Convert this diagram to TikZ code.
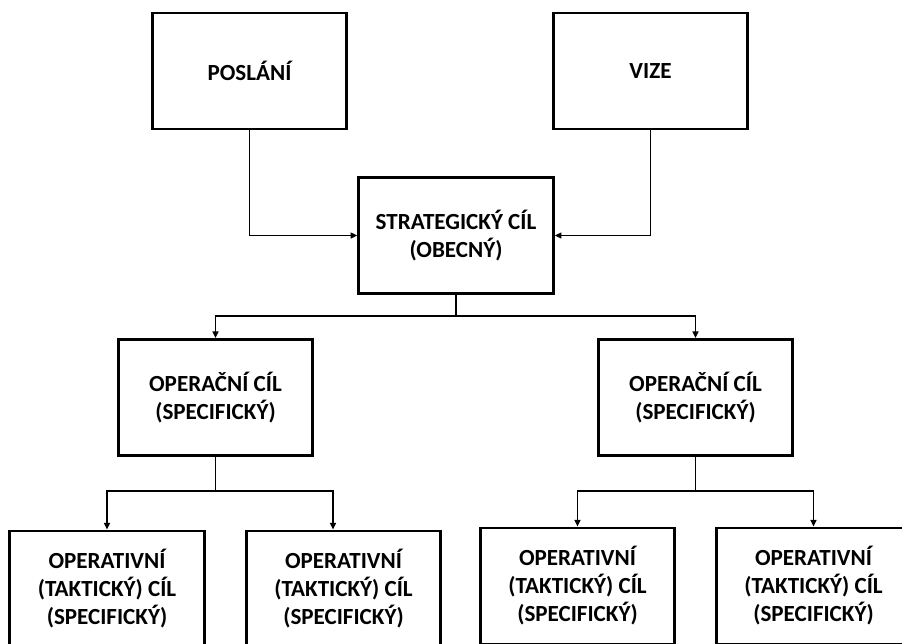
\documentclass[tikz,border=0pt]{standalone}
\usepackage{fontspec}
\setmainfont{Carlito}
\usetikzlibrary{arrows.meta}

\tikzset{
  goalbox/.style={draw=black, line width=2.2pt, fill=white,
    minimum width=146pt, minimum height=87pt, inner sep=0pt,
    align=center, font=\bfseries\fontsize{17.3}{21}\selectfont, text=black},
  conn/.style={draw=black, line width=1.1pt},
  arr/.style={conn, -{Triangle[length=5pt,width=4.5pt]}}
}

\begin{document}
\begin{tikzpicture}[x=0.75pt,y=-0.75pt]
  \clip (0,0) rectangle (902,643);
  \fill[white] (0,0) rectangle (902,643);

  % top level
  \node[goalbox] (posl) at (249.5,71) {POSLÁNÍ};
  \node[goalbox] (vize) at (650.5,71) {VIZE};
  \node[goalbox] (strat) at (456,235.5) {STRATEGICKÝ CÍL\\(OBECNÝ)};

  % operational goals
  \node[goalbox] (op1) at (215.5,397.5) {OPERAČNÍ CÍL\\(SPECIFICKÝ)};
  \node[goalbox] (op2) at (695.5,397.5) {OPERAČNÍ CÍL\\(SPECIFICKÝ)};

  % tactical goals
  \node[goalbox] (t1) at (107,589) {OPERATIVNÍ\\(TAKTICKÝ) CÍL\\(SPECIFICKÝ)};
  \node[goalbox] (t2) at (343.5,589) {OPERATIVNÍ\\(TAKTICKÝ) CÍL\\(SPECIFICKÝ)};
  \node[goalbox] (t3) at (577.5,586) {OPERATIVNÍ\\(TAKTICKÝ) CÍL\\(SPECIFICKÝ)};
  \node[goalbox] (t4) at (813.5,586) {OPERATIVNÍ\\(TAKTICKÝ) CÍL\\(SPECIFICKÝ)};

  % junction points
  \coordinate (j1) at (456,316);
  \coordinate (j2) at (215.5,491);
  \coordinate (j3) at (695.5,491);
  \coordinate (a2) at (333,0);

  % mission and vision feed the strategic goal
  \draw[arr] (posl.south) |- (strat.west);
  \draw[arr] (vize.south) |- (strat.east);

  % strategic goal to operational goals
  \draw[conn] (strat.south) -- (j1);
  \draw[arr] (j1) -| (op1.north);
  \draw[arr] (j1) -| (op2.north);

  % operational goals to tactical goals
  \draw[conn] (op1.south) -- (j2);
  \draw[arr] (j2) -| (t1.north);
  \draw[arr] (j2) -| (t2.north -| a2);
  \draw[conn] (op2.south) -- (j3);
  \draw[arr] (j3) -| (t3.north);
  \draw[arr] (j3) -| (t4.north);
\end{tikzpicture}
\end{document}
